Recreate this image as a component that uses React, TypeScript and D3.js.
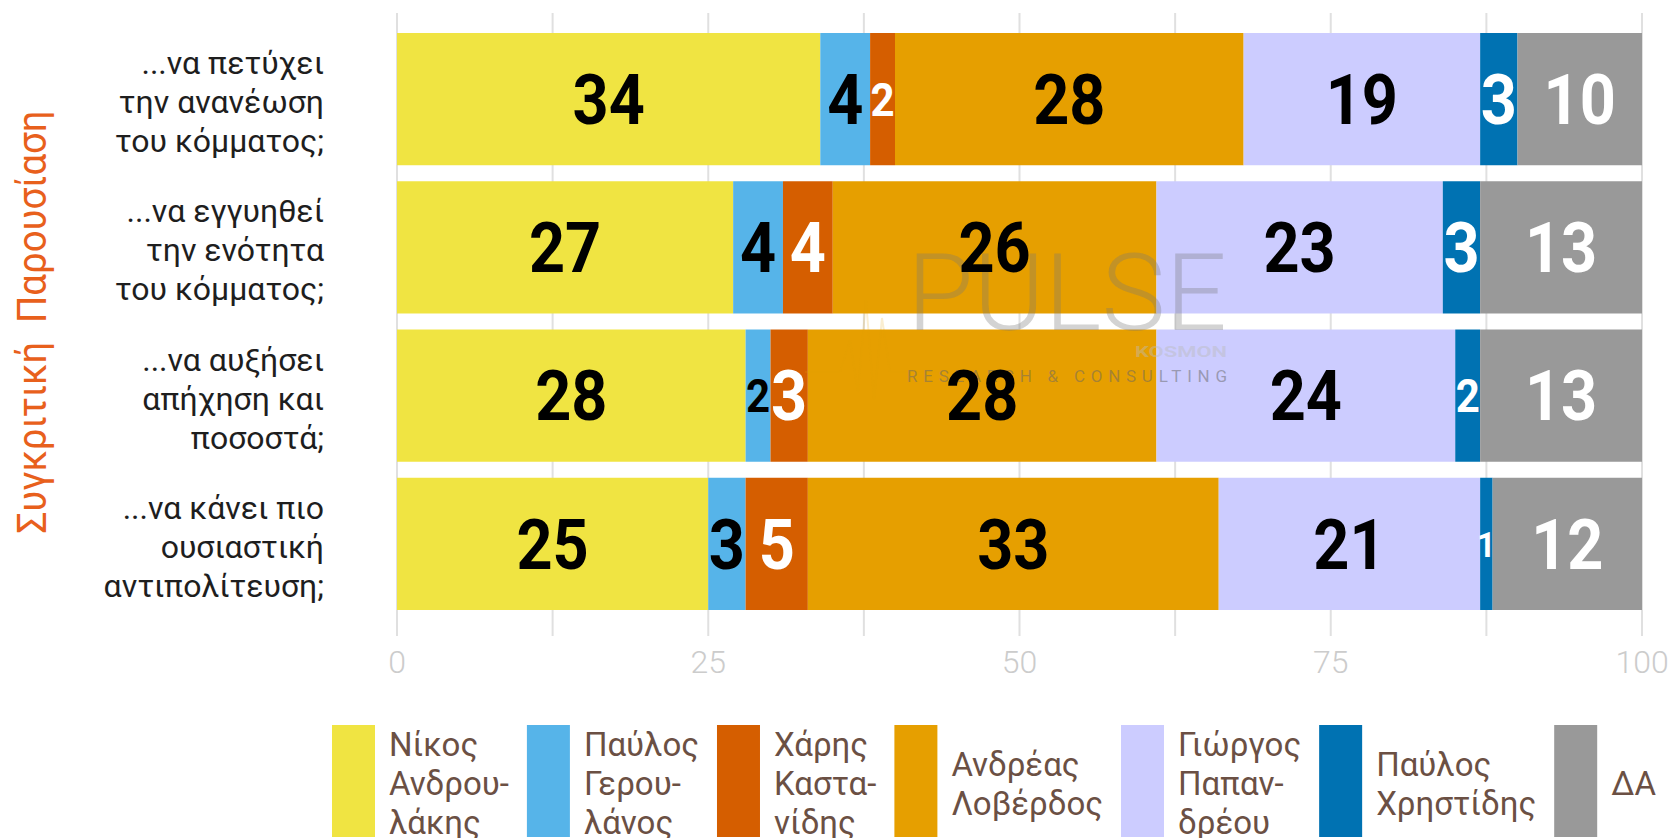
import React from 'react';
import * as d3 from 'd3';

// question labels (one entry per bar, split into lines)
const categories = [
  ['...να πετύχει', 'την ανανέωση', 'του κόμματος;'],
  ['...να εγγυηθεί', 'την ενότητα', 'του κόμματος;'],
  ['...να αυξήσει', 'απήχηση και', 'ποσοστά;'],
  ['...να κάνει πιο', 'ουσιαστική', 'αντιπολίτευση;'],
];

const seriesNames = [
  'Νίκος Ανδρουλάκης',
  'Παύλος Γερουλάνος',
  'Χάρης Καστανίδης',
  'Ανδρέας Λοβέρδος',
  'Γιώργος Παπανδρέου',
  'Παύλος Χρηστίδης',
  'ΔΑ',
];

const legendLines = [
  ['Νίκος', 'Ανδρου-', 'λάκης'],
  ['Παύλος', 'Γερου-', 'λάνος'],
  ['Χάρης', 'Καστα-', 'νίδης'],
  ['Ανδρέας', 'Λοβέρδος'],
  ['Γιώργος', 'Παπαν-', 'δρέου'],
  ['Παύλος', 'Χρηστίδης'],
  ['ΔΑ'],
];

const androulakis = [34, 27, 28, 25];
const geroulanos = [4, 4, 2, 3];
const kastanidis = [2, 4, 3, 5];
const loverdos = [28, 26, 28, 33];
const papandreou = [19, 23, 24, 21];
const christidis = [3, 3, 2, 1];
const da = [10, 13, 13, 12];

const seriesValues = [androulakis, geroulanos, kastanidis, loverdos, papandreou, christidis, da];

const colors = ['#F0E442', '#56B4E9', '#D55E00', '#E69F00', '#CCCCFF', '#0072B2', '#999999'];
const labelColors = ['#000', '#000', '#fff', '#000', '#000', '#fff', '#fff'];

const gridTicks = [0, 12.5, 25, 37.5, 50, 62.5, 75, 87.5, 100];
const labelTicks = [0, 25, 50, 75, 100];

const title = 'Συγκριτική  Παρουσίαση';

const W = 1671, H = 838;
const FONT = 'Roboto, "Noto Sans", sans-serif';

let ctx: CanvasRenderingContext2D | null = null;
function textWidth(s: string, font: string) {
  if (!ctx) ctx = document.createElement('canvas').getContext('2d');
  if (!ctx) return s.length * 17;
  ctx.font = font;
  return ctx.measureText(s).width;
}

export default function App() {
  const x = d3.scaleLinear().domain([0, 100]).range([397, 1642]);
  const y = d3.scaleBand<number>()
    .domain(d3.range(categories.length))
    .range([25, 618])
    .paddingInner(0.108)
    .paddingOuter(0.054);

  const table = categories.map((_, i) => {
    const row: any = {};
    seriesNames.forEach((k, j) => { row[k] = seriesValues[j][i]; });
    return row;
  });
  const stacked = d3.stack<any>().keys(seriesNames)(table);

  // legend layout from measured text widths
  const legendFont = `33px Roboto`;
  let lx = 332;
  const legendItems = legendLines.map((lines, i) => {
    const w = d3.max(lines, l => textWidth(l, legendFont)) || 0;
    const item = { x: lx, lines, i };
    lx += 43 + 14 + w + 18;
    return item;
  });

  // faint pulse trace of the watermark logo
  const pulse = d3.line()([
    [805, 372], [840, 372], [850, 340], [858, 392], [866, 300], [874, 400], [882, 318], [890, 372], [940, 372],
  ]);

  return (
    <svg width={W} height={H} style={{ position: 'absolute', left: 0, top: 0, background: '#fff' }}
      fontFamily={FONT}>
      {/* grid */}
      <g>
        {gridTicks.map(t => (
          <line key={t} x1={x(t)} x2={x(t)} y1={13} y2={636} stroke="#e0e0e0" strokeWidth={2} />
        ))}
      </g>

      {/* bars */}
      <g>
        {stacked.map((s, j) => (
          <g key={s.key} fill={colors[j]}>
            {s.map((d, i) => (
              <rect key={i} x={x(d[0])} y={y(i)} width={x(d[1]) - x(d[0])} height={y.bandwidth()} />
            ))}
          </g>
        ))}
      </g>

      {/* watermark */}
      <g pointerEvents="none">
        <path d={pulse || ''} fill="none" stroke="#E69F00" strokeOpacity={0.18} strokeWidth={2} />
        <text x={907} y={330} fontSize={108} fontWeight={300} fill="#777" fillOpacity={0.32}
          textLength={320} lengthAdjust="spacing">PULSE</text>
        <text x={1135} y={357} fontSize={15} fontWeight={700} fill="#bbb" fillOpacity={0.45}
          textLength={92} lengthAdjust="spacingAndGlyphs">KOSMON</text>
        <text x={907} y={382} fontSize={17} fill="#666" fillOpacity={0.5}
          textLength={320} lengthAdjust="spacing">RESEARCH &amp; CONSULTING</text>
      </g>

      {/* bar labels */}
      <g fontWeight={700}>
        {stacked.map((s, j) => s.map((d, i) => {
          const v = seriesValues[j][i];
          const w = x(d[1]) - x(d[0]);
          const txt = String(v);
          const fit = (w * 0.95) / (txt.length * 0.5625 * 0.9);
          const fs = Math.min(70, Math.max(fit, 36));
          const cx = (x(d[0]) + x(d[1])) / 2;
          const cy = (y(i) as number) + y.bandwidth() / 2;
          return (
            <text key={`${j}-${i}`} transform={`translate(${cx},${cy + fs * 0.355}) scale(0.9,1)`}
              textAnchor="middle" fontSize={fs} fill={labelColors[j]}>{txt}</text>
          );
        }))}
      </g>

      {/* x tick labels */}
      <g>
        {labelTicks.map(t => (
          <text key={t} x={x(t)} y={673} textAnchor="middle" fontSize={32} fontWeight={300}
            fill="#cccccc">{t}</text>
        ))}
      </g>

      {/* category labels */}
      <g fontSize={32} fill="#1e1e1e" textAnchor="end">
        {categories.map((lines, i) => {
          const cy = (y(i) as number) + y.bandwidth() / 2;
          return lines.map((l, k) => (
            <text key={`${i}-${k}`} x={324} y={cy + 14 + (k - 1) * 39}>{l}</text>
          ));
        })}
      </g>

      {/* vertical title */}
      <text transform="translate(46,322) rotate(-90)" textAnchor="middle" fontSize={40}
        fill="#E8601C" textLength={423} lengthAdjust="spacingAndGlyphs"
        style={{ whiteSpace: 'pre' }}>{title}</text>

      {/* legend */}
      <g>
        {legendItems.map(it => {
          const n = it.lines.length;
          return (
            <g key={it.i}>
              <rect x={it.x} y={725} width={43} height={112} fill={colors[it.i]} />
              {it.lines.map((l, k) => (
                <text key={k} x={it.x + 57} y={783 + 12 + (k - (n - 1) / 2) * 39}
                  fontSize={33} fill="#6b5044">{l}</text>
              ))}
            </g>
          );
        })}
      </g>
    </svg>
  );
}
